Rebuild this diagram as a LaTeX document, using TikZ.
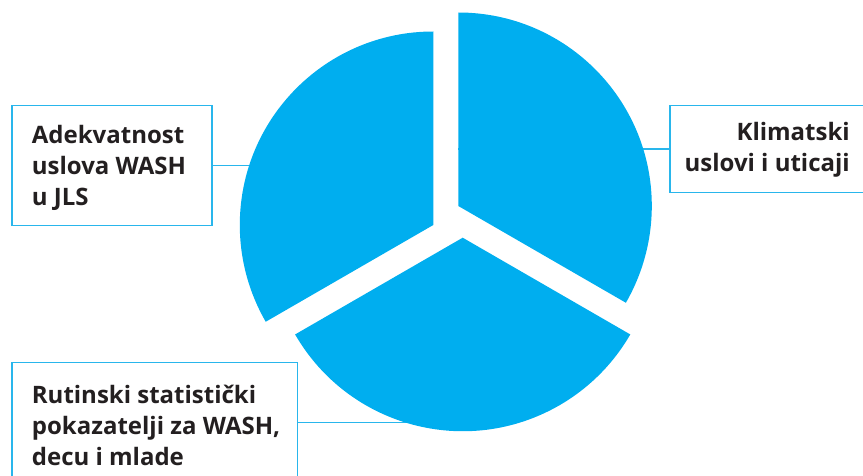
\documentclass[tikz,border=0pt]{standalone}
\usepackage{fontspec}
\setmainfont{Open Sans}
\usetikzlibrary{positioning}
\definecolor{pieblue}{HTML}{00AEEF}
\definecolor{boxblue}{HTML}{29B6EC}
\definecolor{labelgray}{HTML}{231F20}

\begin{document}
\begin{tikzpicture}[x=1pt,y=1pt,
  wedge/.style={fill=pieblue},
  factorbox/.style={draw=boxblue, line width=1.5pt, inner sep=0pt, anchor=north west},
  factortext/.style={inner sep=0pt, text=labelgray,
    font=\fontsize{24}{31.2}\selectfont\bfseries},
  link/.style={draw=boxblue, line width=1.2pt}]
\path[use as bounding box, clip] (0,0) rectangle (863,-476);
% wedge tips
\coordinate (c1) at (458.3,-206);
\coordinate (c2) at (433.3,-225);
\coordinate (c3) at (462.7,-237.7);
% boxes
\node[factorbox, minimum width=200pt, minimum height=120pt] (adeq) at (11,-105) {};
\node[factorbox, minimum width=200pt, minimum height=86.7pt] (klima) at (669,-105) {};
\node[factorbox, minimum width=285.7pt, minimum height=120pt] (rutin) at (11,-361.7) {};
% texts
\node[factortext, anchor=west, align=left] (adeqtext) at ([xshift=20.7pt, yshift=-2pt]adeq.west)
  {Adekvatnost\\uslova WASH\\u JLS};
\node[factortext, anchor=east, align=right] (klimatext) at ([xshift=-20.5pt, yshift=-1pt]klima.east)
  {Klimatski\\uslovi i uticaji};
\node[factortext, anchor=west, align=left] (rutintext) at ([xshift=20.7pt, yshift=-3pt]rutin.west)
  {Rutinski statistički\\pokazatelji za WASH,\\decu i mlade};
% links, under the wedges
\draw[link] (adeq.east) -- (adeq.east -| c2);
\draw[link] (klima.west) -- (klima.west -| c1);
\draw[link] (rutin.east) -- (rutin.east -| c3);
% wedges
\fill[wedge] (c1) -- ++(90:193.5) arc[start angle=90, end angle=-30, radius=193.5] -- cycle;
\fill[wedge] (c2) -- ++(90:193.5) arc[start angle=90, end angle=210, radius=193.5] -- cycle;
\fill[wedge] (c3) -- ++(210:193.5) arc[start angle=210, end angle=330, radius=193.5] -- cycle;
\end{tikzpicture}
\end{document}
